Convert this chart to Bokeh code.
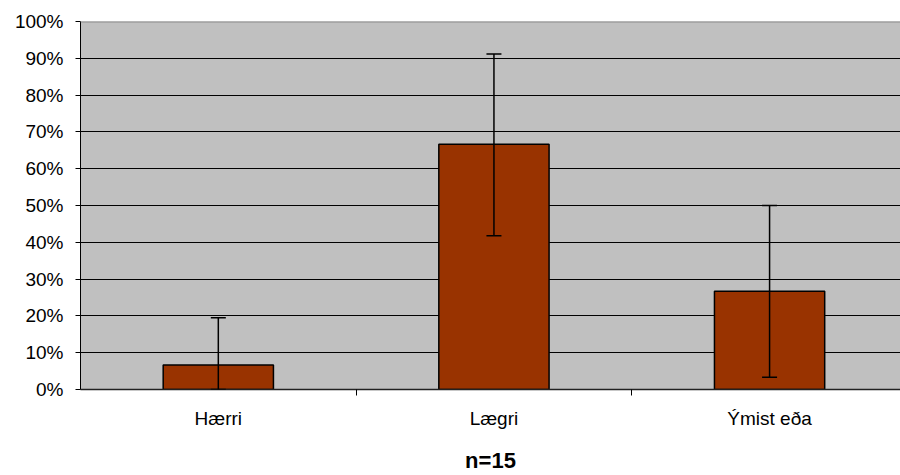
from bokeh.plotting import figure
from bokeh.models import (ColumnDataSource, Range1d, FixedTicker, NumeralTickFormatter,
                          Whisker, TeeHead, Span)
from bokeh.embed import file_html
from bokeh.resources import INLINE

categories = ["Hærri", "Lægri", "Ýmist eða"]
values = [0.0667, 0.6667, 0.2667]
err_lower = [0.0, 0.418, 0.033]
err_upper = [0.195, 0.912, 0.50]
y_ticks = [0.0, 0.1, 0.2, 0.3, 0.4, 0.5, 0.6, 0.7, 0.8, 0.9, 1.0]
title_text = "n=15"

xs = [i + 0.5 for i in range(len(categories))]
src = ColumnDataSource(dict(x=xs, top=values, lower=err_lower, upper=err_upper, cat=categories))

FONT = "Liberation Sans"

p = figure(width=900, height=475, output_backend="svg", toolbar_location=None,
           x_range=Range1d(0, 2.975), y_range=Range1d(0, 1),
           min_border_left=80, min_border_right=0, min_border_top=21, min_border_bottom=86,
           background_fill_color="#C0C0C0", border_fill_color="white")
p.outline_line_color = None

p.vbar(x="x", top="top", bottom=0, width=0.4, source=src,
       fill_color="#993300", line_color="black", line_width=1.5)

w = Whisker(base="x", lower="lower", upper="upper", source=src,
            line_color="black", line_width=1.5, level="overlay",
            upper_head=TeeHead(size=15, line_color="black", line_width=1.5),
            lower_head=TeeHead(size=15, line_color="black", line_width=1.5))
p.add_layout(w)

p.add_layout(Span(location=1.0, dimension="width", line_color="#8C8C8C", line_width=2))

# y axis
p.yaxis.ticker = FixedTicker(ticks=y_ticks)
p.yaxis.formatter = NumeralTickFormatter(format="0%")
p.yaxis.major_tick_out = 5
p.yaxis.major_tick_in = 0
p.yaxis.major_label_standoff = 12
p.yaxis.minor_tick_line_color = None
p.yaxis.axis_line_color = "black"
p.yaxis.major_label_text_font = FONT
p.yaxis.major_label_text_font_size = "19px"
p.yaxis.major_label_text_color = "black"

# x axis
p.xaxis.ticker = FixedTicker(ticks=xs, minor_ticks=[1, 2])
p.xaxis.major_label_overrides = {x: c for x, c in zip(xs, categories)}
p.xaxis.major_tick_line_color = None
p.xaxis.major_tick_out = 0
p.xaxis.major_tick_in = 0
p.xaxis.minor_tick_out = 6
p.xaxis.minor_tick_in = 0
p.xaxis.minor_tick_line_color = "black"
p.xaxis.axis_line_color = "#222222"
p.xaxis.axis_line_width = 1.5
p.xaxis.major_label_standoff = 12
p.xaxis.major_label_text_font = FONT
p.xaxis.major_label_text_font_size = "19px"
p.xaxis.major_label_text_color = "black"

# chart caption as the x axis label
p.xaxis.axis_label = title_text
p.xaxis.axis_label_standoff = 16
p.xaxis.axis_label_text_font = FONT
p.xaxis.axis_label_text_font_size = "22px"
p.xaxis.axis_label_text_font_style = "bold"
p.xaxis.axis_label_text_color = "black"

p.xgrid.visible = False
p.ygrid.grid_line_color = "black"
p.ygrid.grid_line_width = 1

open("out.html", "w").write(file_html(p, INLINE))
